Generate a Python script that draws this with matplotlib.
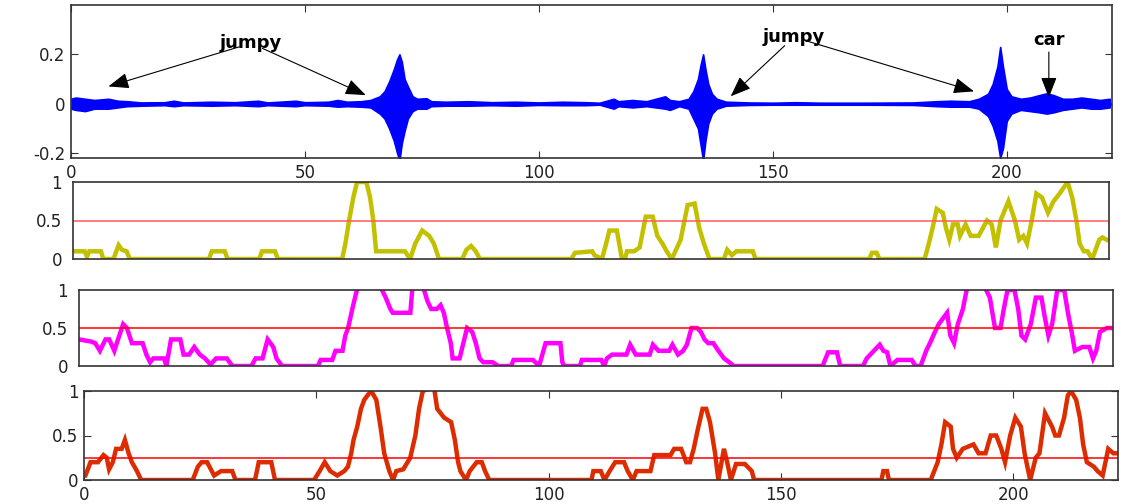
import matplotlib
matplotlib.use("Agg")
import matplotlib.pyplot as plt

# ---------------- data ----------------
# top panel: envelope of the audio waveform (time, upper, lower)
wave_t = [0, 1, 3, 5, 8, 10, 12, 15, 20, 22, 24, 30, 35, 40, 42, 48, 50, 55, 57, 59,
          62, 64, 66, 67, 68, 69, 69.7, 70.2, 70.7, 71.3, 72, 73, 74, 76, 77, 80, 85,
          90, 95, 100, 105, 110, 113, 116, 117, 120, 123, 125, 127, 128, 130, 132, 133,
          134, 134.6, 135.1, 135.6, 136.2, 137, 138, 140, 145, 150, 155, 160, 170, 180,
          185, 188, 192, 194, 196, 197, 198, 198.6, 199.2, 200, 201, 203, 205, 207,
          208.5, 210, 212, 214, 216, 218, 220, 222]
wave_hi = [0.02, 0.025, 0.02, 0.015, 0.02, 0.012, 0.01, 0.005, 0.006, 0.012, 0.005, 0.008,
           0.006, 0.012, 0.005, 0.012, 0.006, 0.008, 0.015, 0.008, 0.01, 0.015, 0.03, 0.05,
           0.09, 0.14, 0.18, 0.2, 0.17, 0.1, 0.07, 0.03, 0.02, 0.022, 0.01, 0.008, 0.01,
           0.006, 0.008, 0.005, 0.008, 0.006, 0.004, 0.02, 0.01, 0.015, 0.01, 0.02, 0.03,
           0.015, 0.01, 0.02, 0.05, 0.1, 0.16, 0.2, 0.14, 0.08, 0.04, 0.02, 0.008, 0.005,
           0.004, 0.006, 0.004, 0.004, 0.005, 0.01, 0.012, 0.01, 0.02, 0.04, 0.08, 0.15,
           0.23, 0.15, 0.06, 0.03, 0.02, 0.025, 0.035, 0.042, 0.035, 0.02, 0.02, 0.025,
           0.02, 0.015, 0.02]
wave_lo = [-0.02, -0.025, -0.03, -0.02, -0.02, -0.015, -0.01, -0.008, -0.006, -0.01,
           -0.006, -0.008, -0.006, -0.01, -0.006, -0.01, -0.006, -0.008, -0.012, -0.01,
           -0.012, -0.015, -0.04, -0.06, -0.1, -0.15, -0.2, -0.23, -0.16, -0.11, -0.06,
           -0.03, -0.02, -0.02, -0.01, -0.008, -0.008, -0.006, -0.008, -0.005, -0.006,
           -0.006, -0.004, -0.02, -0.01, -0.015, -0.01, -0.015, -0.02, -0.025, -0.01,
           -0.02, -0.06, -0.1, -0.17, -0.23, -0.15, -0.08, -0.04, -0.02, -0.008, -0.005,
           -0.004, -0.004, -0.004, -0.004, -0.005, -0.01, -0.012, -0.012, -0.02, -0.05,
           -0.09, -0.15, -0.22, -0.18, -0.07, -0.04, -0.025, -0.03, -0.035, -0.04, -0.035,
           -0.025, -0.02, -0.015, -0.02, -0.02, -0.015]

# panel 2 (yellow)
yel_x = [0, 2.5, 3, 3.5, 6, 6.5, 8.7, 9.3, 9.8, 10.5,
         11.5, 12.2, 29.2, 29.8, 32.6, 33.2, 40, 40.6, 43.4, 44,
         57.8, 58.5, 59.3, 60.2, 61, 63, 63.8, 64.5, 65.1, 71.3,
         72.4, 73.5, 75, 76.5, 77.5, 78.6, 83.6, 84.5, 85.5, 86.5,
         87.4, 107, 107.8, 111.5, 112, 113.6, 114.5, 115.2, 116.8, 117.9,
         118.5, 119, 120.5, 121.7, 123, 124.5, 125.5, 126.6, 127.5, 128.6,
         130.5, 132, 133.5, 134.5, 135.5, 136.7, 139.8, 140.5, 141.5, 142.5,
         146, 146.6, 171, 171.6, 172.6, 173.2, 182.9, 183.8, 184.6, 185.5,
         186.8, 187.5, 188.2, 189, 190, 190.5, 191.7, 192.8, 194.5, 196.3,
         197.3, 198.2, 199.2, 200.9, 202.3, 203.2, 204.1, 204.9, 205.9, 206.9,
         208.1, 209.4, 210.6, 211.9, 213.6, 214.6, 215.5, 216.2, 217.1, 217.9,
         218.9, 220.4, 221.1, 222]
yel_y = [0.1, 0.1, 0.03, 0.1, 0.1, 0.0, 0.0, 0.1, 0.18, 0.12,
         0.1, 0.0, 0.0, 0.1, 0.1, 0.0, 0.0, 0.1, 0.1, 0.0,
         0.0, 0.2, 0.5, 0.8, 1.0, 1.0, 0.8, 0.5, 0.1, 0.1,
         0.0, 0.2, 0.37, 0.3, 0.2, 0.0, 0.0, 0.12, 0.17, 0.1,
         0.0, 0.0, 0.08, 0.1, 0.05, 0.0, 0.2, 0.37, 0.37, 0.0,
         0.0, 0.1, 0.1, 0.15, 0.55, 0.55, 0.3, 0.2, 0.1, 0.0,
         0.25, 0.7, 0.72, 0.4, 0.2, 0.0, 0.0, 0.12, 0.05, 0.1,
         0.1, 0.0, 0.0, 0.08, 0.08, 0.0, 0.0, 0.2, 0.4, 0.65,
         0.6, 0.4, 0.25, 0.45, 0.45, 0.3, 0.45, 0.3, 0.3, 0.5,
         0.45, 0.15, 0.5, 0.75, 0.5, 0.25, 0.3, 0.2, 0.5, 0.85,
         0.8, 0.6, 0.75, 0.85, 1.0, 0.8, 0.5, 0.2, 0.1, 0.1,
         0.0, 0.25, 0.28, 0.25]

# panel 3 (magenta)
mag_x = [0, 2.7, 3.5, 4.5, 5.7, 6.5, 7.6, 8.4, 9.5, 10.3,
         11.4, 13.7, 14.5, 15.3, 16, 18.3, 18.8, 19.8, 21.8, 22.5,
         23.7, 24.8, 26, 27.1, 28.3, 29.5, 31.8, 33, 37.1, 38,
         39.5, 40.6, 41.8, 42.5, 43.7, 51.4, 52, 54.5, 55.2, 56.7,
         57.3, 57.9, 59, 59.8, 60.5, 64.8, 66, 67, 67.5, 71.3,
         71.7, 72.5, 74, 75, 75.8, 77, 77.8, 78.5, 79.2, 80,
         80.4, 81.9, 82.7, 83.5, 84.6, 85.4, 86.2, 87, 89, 90.2,
         93, 93.5, 97.7, 99, 100.4, 103.6, 104, 104.4, 107.8, 108.2,
         112.4, 113, 113.6, 114.7, 117.8, 118.6, 119.8, 122.8, 123.5, 124.7,
         127, 127.7, 128.9, 130, 130.8, 131.8, 133, 133.8, 134.6, 135.4,
         136.5, 137.6, 138.8, 139.9, 140.9, 160, 161.2, 163.1, 163.8, 168.7,
         169.5, 172.3, 173.1, 173.9, 174.6, 176.1, 179.2, 180, 181.1, 182.3,
         183.1, 184.2, 185, 186.8, 187.5, 188.3, 189.1, 190.2, 191, 191.3,
         194.8, 196, 197.1, 198.3, 199, 199.8, 201.3, 202.1, 202.8, 203.6,
         204.8, 205.9, 207.1, 207.8, 208.6, 209.4, 210.5, 212, 212.8, 213.6,
         214.3, 215.9, 217.4, 218.2, 218.9, 219.7, 221.2, 222]
mag_y = [0.35, 0.32, 0.3, 0.2, 0.35, 0.35, 0.2, 0.35, 0.55, 0.5,
         0.3, 0.3, 0.15, 0.05, 0.1, 0.1, 0.0, 0.35, 0.35, 0.15,
         0.15, 0.25, 0.15, 0.1, 0.02, 0.1, 0.1, 0.0, 0.0, 0.1,
         0.1, 0.35, 0.25, 0.1, 0.0, 0.0, 0.08, 0.08, 0.2, 0.2,
         0.4, 0.5, 0.8, 1.0, 1.05, 1.05, 0.9, 0.75, 0.7, 0.7,
         1.0, 1.05, 1.05, 0.85, 0.75, 0.75, 0.8, 0.7, 0.5, 0.3,
         0.1, 0.1, 0.3, 0.5, 0.45, 0.3, 0.1, 0.05, 0.05, 0.0,
         0.0, 0.08, 0.08, 0.0, 0.3, 0.3, 0.05, 0.0, 0.0, 0.08,
         0.08, 0.0, 0.1, 0.15, 0.15, 0.28, 0.15, 0.15, 0.28, 0.2,
         0.2, 0.28, 0.15, 0.2, 0.28, 0.5, 0.5, 0.45, 0.35, 0.3,
         0.3, 0.2, 0.1, 0.05, 0.0, 0.0, 0.18, 0.18, 0.0, 0.0,
         0.1, 0.28, 0.2, 0.18, 0.0, 0.08, 0.08, 0.0, 0.0, 0.2,
         0.3, 0.45, 0.55, 0.7, 0.4, 0.3, 0.55, 0.75, 1.0, 1.05,
         1.05, 0.9, 0.5, 0.5, 0.75, 1.0, 1.0, 0.75, 0.4, 0.35,
         0.55, 0.9, 0.9, 0.65, 0.4, 0.55, 1.0, 1.0, 0.7, 0.45,
         0.2, 0.25, 0.25, 0.1, 0.2, 0.45, 0.5, 0.5]

# panel 4 (red)
red_x = [0, 0.3, 1.4, 3, 4.2, 4.9, 5.4, 6.2, 6.9, 8.1,
         8.8, 9.6, 10.3, 11.4, 12.3, 23.4, 24.5, 25.3, 26.5, 28,
         29.5, 31.9, 32.6, 36.8, 37.6, 40.3, 41.1, 49.5, 50.7, 51.8,
         53, 54.5, 56, 56.8, 57.5, 58, 58.8, 59.6, 60.3, 61,
         61.8, 62.9, 63.8, 64.6, 65.7, 66.5, 67.2, 68.7, 70.2, 71.3,
         72.1, 72.9, 75.3, 76, 77.5, 79, 79.8, 80.5, 81, 82.2,
         83, 84.5, 85.6, 86.3, 87.2, 109.2, 109.6, 111.2, 112, 113.1,
         114.3, 116.2, 117, 118.1, 118.9, 121.9, 122.7, 126.2, 127, 128.5,
         129.6, 130.4, 131.2, 132, 133.1, 133.9, 134.7, 135.8, 136.5, 137.7,
         138.4, 139.2, 140.3, 142.2, 143.7, 144.2, 171.6, 172, 172.8, 173.2,
         182.2, 183.7, 184.5, 185.3, 186.5, 187, 187.8, 189.1, 191.4, 192.5,
         194, 195.1, 196.3, 197.4, 198.2, 199.3, 200.4, 201.6, 202.4, 203.6,
         204.8, 205.6, 206.8, 208.3, 209, 209.8, 210.9, 211.7, 212.4, 213.5,
         214.3, 215, 215.8, 217.3, 218.1, 219.2, 220.4, 221.5, 222]
red_y = [0.05, 0.05, 0.2, 0.2, 0.28, 0.25, 0.12, 0.2, 0.35, 0.35,
         0.45, 0.3, 0.2, 0.1, 0.0, 0.0, 0.15, 0.2, 0.2, 0.05,
         0.1, 0.1, 0.0, 0.0, 0.2, 0.2, 0.0, 0.0, 0.1, 0.2,
         0.1, 0.05, 0.1, 0.15, 0.3, 0.45, 0.6, 0.8, 0.9, 0.95,
         1.0, 0.9, 0.6, 0.3, 0.1, 0.0, 0.1, 0.12, 0.25, 0.5,
         0.8, 1.0, 1.05, 0.8, 0.7, 0.65, 0.45, 0.2, 0.1, 0.0,
         0.1, 0.2, 0.2, 0.1, 0.0, 0.0, 0.1, 0.1, 0.0, 0.1,
         0.2, 0.2, 0.1, 0.0, 0.1, 0.1, 0.28, 0.28, 0.35, 0.35,
         0.2, 0.2, 0.35, 0.55, 0.8, 0.8, 0.65, 0.3, 0.0, 0.35,
         0.2, 0.0, 0.18, 0.18, 0.1, 0.0, 0.0, 0.1, 0.1, 0.0,
         0.0, 0.2, 0.4, 0.65, 0.6, 0.35, 0.25, 0.35, 0.4, 0.3,
         0.3, 0.5, 0.5, 0.35, 0.2, 0.5, 0.7, 0.6, 0.3, 0.0,
         0.25, 0.3, 0.75, 0.6, 0.5, 0.5, 0.7, 0.95, 1.0, 0.9,
         0.7, 0.4, 0.2, 0.15, 0.1, 0.05, 0.35, 0.3, 0.3]

thresholds = [0.5, 0.5, 0.25]

x_ticks = [0, 50, 100, 150, 200]
top_yticks = [-0.2, 0, 0.2]
top_yticklabels = ["-0.2", "0", "0.2"]
score_yticks = [0, 0.5, 1]
score_yticklabels = ["0", "0.5", "1"]

# annotations: (text, text position, [arrow targets])
annotations = [
    ("jumpy", (38.5, 0.245), [(8.0, 0.07), (63.0, 0.035)]),
    ("jumpy", (154.5, 0.27), [(141.0, 0.03), (193.0, 0.05)]),
    ("car", (209.0, 0.26), [(209.0, 0.025)]),
]

# ---------------- figure ----------------
W, H = 1125, 504
fig = plt.figure(figsize=(W / 100, H / 100), dpi=100)

def px_axes(left, top, right, bottom):
    return fig.add_axes([left / W, 1 - bottom / H, (right - left) / W, (bottom - top) / H])

XMAX = 222.5
spine_col = "#333333"

def style(ax):
    for s in ax.spines.values():
        s.set_color(spine_col)
        s.set_linewidth(1.2)

# top waveform
ax1 = px_axes(71, 5, 1112, 158)
ax1.fill_between(wave_t, wave_lo, wave_hi, color="#0000ff", lw=1.2, edgecolor="#0000ff")
ax1.plot(wave_t, [0] * len(wave_t), color="#0000ff", lw=2)
ax1.set_xlim(0, XMAX)
ax1.set_ylim(-0.22, 0.4)
ax1.set_xticks(x_ticks)
ax1.set_yticks(top_yticks)
ax1.set_yticklabels(top_yticklabels)
ax1.tick_params(direction="in", length=5, top=True, right=True, labelsize=12,
                labelcolor="#222222", color=spine_col, pad=4)
style(ax1)
for txt, tpos, targets in annotations:
    ax1.text(tpos[0], tpos[1], txt, fontsize=13, fontweight="bold", ha="center",
             va="center", color="black")
    for tx, ty in targets:
        ax1.annotate("", xy=(tx, ty), xytext=tpos, textcoords="data",
                     arrowprops=dict(arrowstyle="-|>,head_length=0.9,head_width=0.35",
                                     color="black", lw=0.8, shrinkA=9, shrinkB=0,
                                     mutation_scale=14))

panels = [
    (yel_x, yel_y, "#c3c000", (73, 182, 1109, 259), "#ff5a5a", False),
    (mag_x, mag_y, "#ff00ff", (79, 290, 1113, 366), "#ff0000", False),
    (red_x, red_y, "#dd2c00", (84, 391, 1118, 480), "#ff0000", True),
]
for (xs, ys, col, box, thcol, bottom), th in zip(panels, thresholds):
    ax = px_axes(*box)
    ax.plot(xs, ys, color=col, lw=3.2, solid_joinstyle="miter")
    ax.axhline(th, color=thcol, lw=1.1)
    ax.set_xlim(0, XMAX)
    ax.set_ylim(0, 1)
    ax.set_yticks(score_yticks)
    ax.set_yticklabels(score_yticklabels)
    style(ax)
    if bottom:
        ax.set_xticks(x_ticks)
        ax.tick_params(direction="in", length=5, top=True, right=True, labelsize=12,
                       labelcolor="#222222", color=spine_col, pad=4)
    else:
        ax.set_xticks([])
        ax.tick_params(axis="y", length=0, labelsize=12, labelcolor="#222222", pad=8)

fig.savefig("out.png", dpi=100)
